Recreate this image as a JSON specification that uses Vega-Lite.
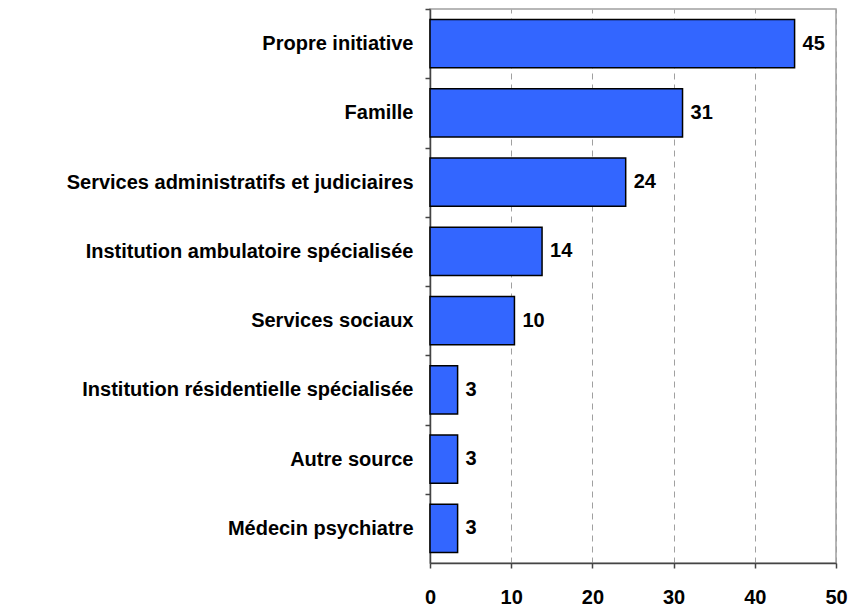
{
  "$schema": "https://vega.github.io/schema/vega-lite/v6.json",
  "width": 406,
  "height": 554,
  "autosize": {"type": "none"},
  "padding": {"left": 430, "top": 9, "right": 15, "bottom": 45},
  "background": "white",
  "config": {
    "font": "Liberation Sans",
    "view": {"stroke": "#a0a0a0", "strokeWidth": 1.5}
  },
  "data": {
    "values": [
      {"categorie": "Propre initiative", "valeur": 44.9},
      {"categorie": "Famille", "valeur": 31.1},
      {"categorie": "Services administratifs et judiciaires", "valeur": 24.1},
      {"categorie": "Institution ambulatoire spécialisée", "valeur": 13.8},
      {"categorie": "Services sociaux", "valeur": 10.4},
      {"categorie": "Institution résidentielle spécialisée", "valeur": 3.4},
      {"categorie": "Autre source", "valeur": 3.4},
      {"categorie": "Médecin psychiatre", "valeur": 3.4}
    ]
  },
  "encoding": {
    "y": {
      "field": "categorie",
      "type": "nominal",
      "sort": null,
      "scale": {"paddingInner": 0.3, "paddingOuter": 0.15},
      "axis": {
        "title": null,
        "domainColor": "#444444",
        "domainWidth": 1.5,
        "tickColor": "#444444",
        "tickWidth": 1.5,
        "tickSize": 5,
        "bandPosition": 0.5,
        "tickOffset": -34.625,
        "labelOffset": 34.625,
        "labelPadding": 12,
        "labelFont": "Liberation Sans",
        "labelFontSize": 20,
        "labelFontWeight": "bold",
        "labelColor": "black",
        "labelLimit": 500,
        "grid": false
      }
    },
    "x": {
      "field": "valeur",
      "type": "quantitative",
      "scale": {"domain": [0, 50], "nice": false},
      "axis": {
        "title": null,
        "values": [0, 10, 20, 30, 40, 50],
        "labelFlush": false,
        "labelOverlap": false,
        "domainColor": "#444444",
        "domainWidth": 1.5,
        "tickColor": "#444444",
        "tickWidth": 1.5,
        "tickSize": 5,
        "labelPadding": 19,
        "labelFont": "Liberation Sans",
        "labelFontSize": 20,
        "labelFontWeight": "bold",
        "labelColor": "black",
        "grid": true,
        "gridColor": "#a0a0a0",
        "gridWidth": 1,
        "gridDash": [6, 5]
      }
    }
  },
  "layer": [
    {
      "mark": {"type": "bar", "fill": "#3366ff", "stroke": "black", "strokeWidth": 1.5}
    },
    {
      "mark": {
        "type": "text",
        "align": "left",
        "baseline": "middle",
        "dx": 8,
        "font": "Liberation Sans",
        "fontSize": 20,
        "fontWeight": "bold",
        "color": "black"
      },
      "encoding": {
        "text": {"field": "valeur", "type": "quantitative", "format": ".0f"}
      }
    }
  ]
}
